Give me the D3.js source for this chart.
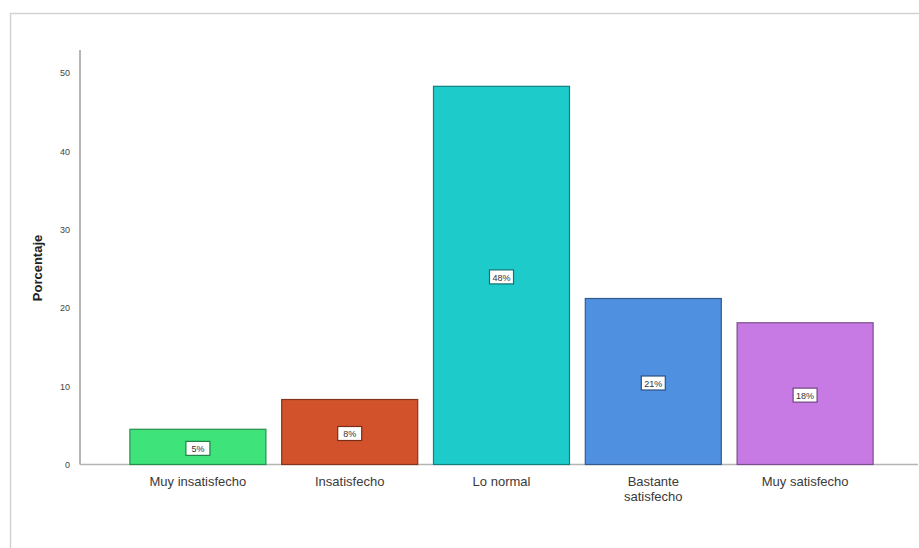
<!DOCTYPE html>
<html>
<head>
<meta charset="utf-8">
<script src="https://cdn.jsdelivr.net/npm/d3@7/dist/d3.min.js"></script>
<style>
  html, body { margin: 0; padding: 0; background: #fff; }
  svg { display: block; font-family: "Liberation Sans", Arial, sans-serif; }
</style>
</head>
<body>
<svg id="chart" width="919" height="548"></svg>
<script>
// Satisfaction categories and their percentages
const categories = ["Muy insatisfecho", "Insatisfecho", "Lo normal", "Bastante satisfecho", "Muy satisfecho"];
const percentages = [4.5, 8.3, 48.3, 21.2, 18.1];
const barColors = ["#3ee37a", "#d2522c", "#1ecbcb", "#5090e0", "#c77ae4"];
const yTicks = [0, 10, 20, 30, 40, 50];

const svg = d3.select("#chart");

// Outer frame (top and left edges)
svg.append("path")
  .attr("d", "M10.5,548 L10.5,13.5 L919,13.5")
  .attr("fill", "none")
  .attr("stroke", "#d2d2d2")
  .attr("stroke-width", 1.5);

const x = d3.scaleBand()
  .domain(categories)
  .range([122, 881])
  .paddingInner(0.104)
  .paddingOuter(0.052);

const y = d3.scaleLinear()
  .domain([0, 50])
  .range([464.5, 73]);

// Axis lines
svg.append("line")
  .attr("x1", 80).attr("x2", 80)
  .attr("y1", 50).attr("y2", y(0))
  .attr("stroke", "#b5b5b5").attr("stroke-width", 2);
svg.append("line")
  .attr("x1", 80).attr("x2", 918)
  .attr("y1", y(0)).attr("y2", y(0))
  .attr("stroke", "#b5b5b5").attr("stroke-width", 1.5);

// Y axis tick labels
const yAxis = d3.axisLeft(y).tickValues(yTicks).tickSize(0).tickPadding(0);
const gy = svg.append("g").attr("transform", "translate(70,0)").call(yAxis);
gy.select(".domain").remove();
gy.selectAll("text")
  .attr("font-size", 9)
  .attr("fill", "#444")
  .attr("font-family", "\"Liberation Sans\", Arial, sans-serif");

// Y axis title
svg.append("text")
  .attr("transform", "translate(42,268) rotate(-90)")
  .attr("text-anchor", "middle")
  .attr("font-size", 13)
  .attr("font-weight", "bold")
  .attr("fill", "#222")
  .text("Porcentaje");

// Bars
const rows = categories.map((c, i) => ({ cat: c, val: percentages[i], color: barColors[i] }));

svg.append("g").selectAll("rect")
  .data(rows)
  .join("rect")
  .attr("x", d => x(d.cat))
  .attr("y", d => y(d.val))
  .attr("width", x.bandwidth())
  .attr("height", d => y(0) - y(d.val))
  .attr("fill", d => d.color)
  .attr("stroke", d => d3.color(d.color).darker(1.3))
  .attr("stroke-width", 1.2);

// Value labels in white boxes at the middle of each bar
const labels = svg.append("g").selectAll("g")
  .data(rows)
  .join("g")
  .attr("transform", d => `translate(${x(d.cat) + x.bandwidth() / 2},${(y(d.val) + y(0)) / 2 + 2})`);

labels.append("rect")
  .attr("x", -12).attr("y", -7.5)
  .attr("width", 24).attr("height", 14)
  .attr("fill", "#fff")
  .attr("stroke", d => d3.color(d.color).darker(1.6))
  .attr("stroke-width", 1.2);

labels.append("text")
  .attr("text-anchor", "middle")
  .attr("dy", "0.35em")
  .attr("font-size", 9)
  .attr("fill", "#333")
  .text(d => Math.round(d.val) + "%");

// Category labels, wrapped on two lines where they are long
const catLabels = svg.append("g").selectAll("text")
  .data(rows)
  .join("text")
  .attr("x", d => x(d.cat) + x.bandwidth() / 2)
  .attr("y", 486)
  .attr("text-anchor", "middle")
  .attr("font-size", 13)
  .attr("fill", "#3a3a3a");

catLabels.each(function (d) {
  const t = d3.select(this);
  const lines = d.cat === "Bastante satisfecho" ? ["Bastante", "satisfecho"] : [d.cat];
  lines.forEach((ln, i) => {
    t.append("tspan")
      .attr("x", x(d.cat) + x.bandwidth() / 2)
      .attr("dy", i === 0 ? 0 : 15)
      .text(ln);
  });
});
</script>
</body>
</html>
